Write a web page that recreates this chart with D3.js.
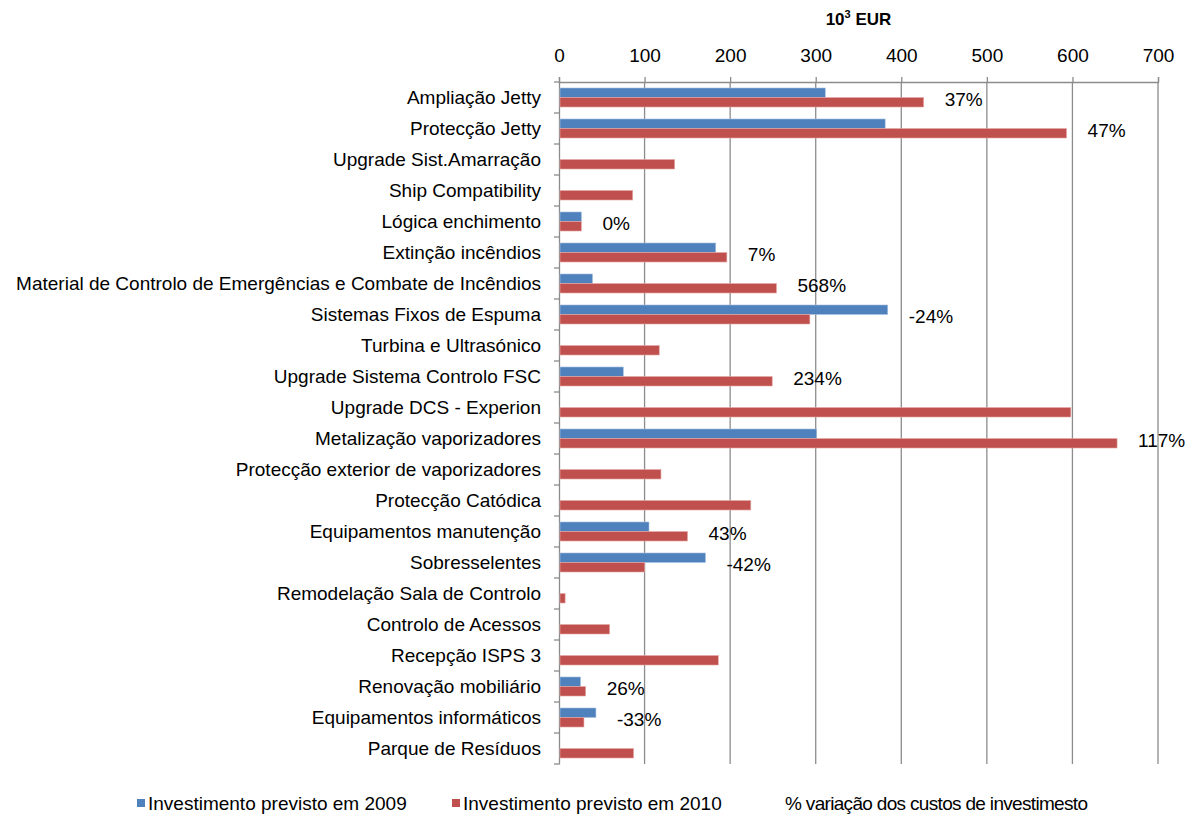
<!DOCTYPE html>
<html><head><meta charset="utf-8">
<script src="https://cdn.jsdelivr.net/npm/d3@7"></script>
<style>
body{margin:0;background:#fff;}
text{font-family:"Liberation Sans",Arial,sans-serif;fill:#000;}
</style></head>
<body><svg id="c" width="1186" height="816"></svg>
<script>
const categories = ["Ampliação Jetty","Protecção Jetty","Upgrade Sist.Amarração","Ship Compatibility","Lógica enchimento","Extinção incêndios","Material de Controlo de Emergências e Combate de Incêndios","Sistemas Fixos de Espuma","Turbina e Ultrasónico","Upgrade Sistema Controlo FSC","Upgrade DCS - Experion","Metalização vaporizadores","Protecção exterior de vaporizadores","Protecção Catódica","Equipamentos manutenção","Sobresselentes","Remodelação Sala de Controlo","Controlo de Acessos","Recepção ISPS 3","Renovação mobiliário","Equipamentos informáticos","Parque de Resíduos"];
const inv2009 = [310,380,0,0,25,182,38,383,0,74,0,300,0,0,104,170,0,0,0,24,42,0];
const inv2010 = [425,592,134,85,25,195,253,292,116,248,597,651,118,223,149,99,6,58,185,30,28,86];
const variacao = ["37%","47%","","","0%","7%","568%","-24%","","234%","","117%","","","43%","-42%","","","","26%","-33%",""];
const xTicks = [0,100,200,300,400,500,600,700];
const seriesNames = ["Investimento previsto em 2009","Investimento previsto em 2010","% variação dos custos de investimesto"];
const colors = ["#4F81BD","#C0504D"];

const svg = d3.select("#c");
const L=559, R=1158, T=82, B=764;
const x = d3.scaleLinear().domain([0,700]).range([L,R]);
const y = d3.scaleBand().domain(categories).range([T,B]);
const sub = d3.scaleBand().domain(["2009","2010"]).range([0,y.bandwidth()]).paddingInner(0).paddingOuter(0.63);
const FS = "19px";
const FF = "'Liberation Sans',Arial,sans-serif";

// gridlines
svg.append("g").selectAll("line").data(xTicks.slice(1)).join("line")
  .attr("x1",d=>x(d)).attr("x2",d=>x(d)).attr("y1",T).attr("y2",B)
  .attr("stroke","#8c8c8c").attr("stroke-width",1.3);

// top axis
const ax = svg.append("g").attr("transform",`translate(0,${T})`)
  .call(d3.axisTop(x).tickValues(xTicks).tickSize(5).tickPadding(15).tickFormat(d3.format("d")));
ax.select(".domain").attr("stroke","#8c8c8c").attr("stroke-width",1.3);
ax.selectAll(".tick line").attr("stroke","#8c8c8c").attr("stroke-width",1.3);
ax.selectAll(".tick text").style("font-size",FS).style("font-family",FF).attr("fill","#000");

// left axis
const ay = svg.append("g").attr("transform",`translate(${L},0)`)
  .call(d3.axisLeft(y).tickSize(0).tickPadding(18));
ay.select(".domain").attr("stroke","#8c8c8c").attr("stroke-width",1.3);
ay.selectAll(".tick text").style("font-size",FS).style("font-family",FF).attr("fill","#000").attr("dy","0.32em");
// category boundary ticks
const bounds = categories.map(c=>y(c)).concat([B]);
svg.append("g").selectAll("line").data(bounds).join("line")
  .attr("x1",L-5).attr("x2",L).attr("y1",d=>d).attr("y2",d=>d)
  .attr("stroke","#8c8c8c").attr("stroke-width",1.3);

// bars
const rows = categories.map((c,i)=>({c, v:[inv2009[i],inv2010[i]], p:variacao[i]}));
const g = svg.append("g");
rows.forEach(r=>{
  ["2009","2010"].forEach((k,j)=>{
    if(r.v[j]<=0) return;
    g.append("rect").attr("x",x(0)+1).attr("y",y(r.c)+sub(k))
      .attr("width",x(r.v[j])-x(0)).attr("height",sub.bandwidth())
      .attr("fill",colors[j]).attr("stroke",j?"#e6a9a8":"#a9c1e0").attr("stroke-width",0.6);
  });
  if(r.p){
    g.append("text").attr("x",x(d3.max(r.v))+22).attr("y",y(r.c)+y.bandwidth()/2+2)
      .attr("dy","0.36em").style("font-size",FS).text(r.p);
  }
});

// title
const t = svg.append("text").attr("x",(L+R)/2).attr("y",25).attr("text-anchor","middle")
  .style("font-size","17px").style("font-weight","bold");
t.append("tspan").text("10");
t.append("tspan").attr("dy","-7").style("font-size","11px").text("3");
t.append("tspan").attr("dy","7").text(" EUR");

// legend
const lg = svg.append("g").attr("transform","translate(0,803)");
const lx = [137,452];
[0,1].forEach(i=>{
  lg.append("rect").attr("x",lx[i]).attr("y",-4).attr("width",8).attr("height",8).attr("fill",colors[i]);
  lg.append("text").attr("x",lx[i]+11).attr("y",0).attr("dy","0.35em").style("font-size",FS).text(seriesNames[i]);
});
lg.append("text").attr("x",785).attr("y",0).attr("dy","0.35em").style("font-size",FS)
  .attr("textLength",303).attr("lengthAdjust","spacing").text(seriesNames[2]);
</script></body></html>
